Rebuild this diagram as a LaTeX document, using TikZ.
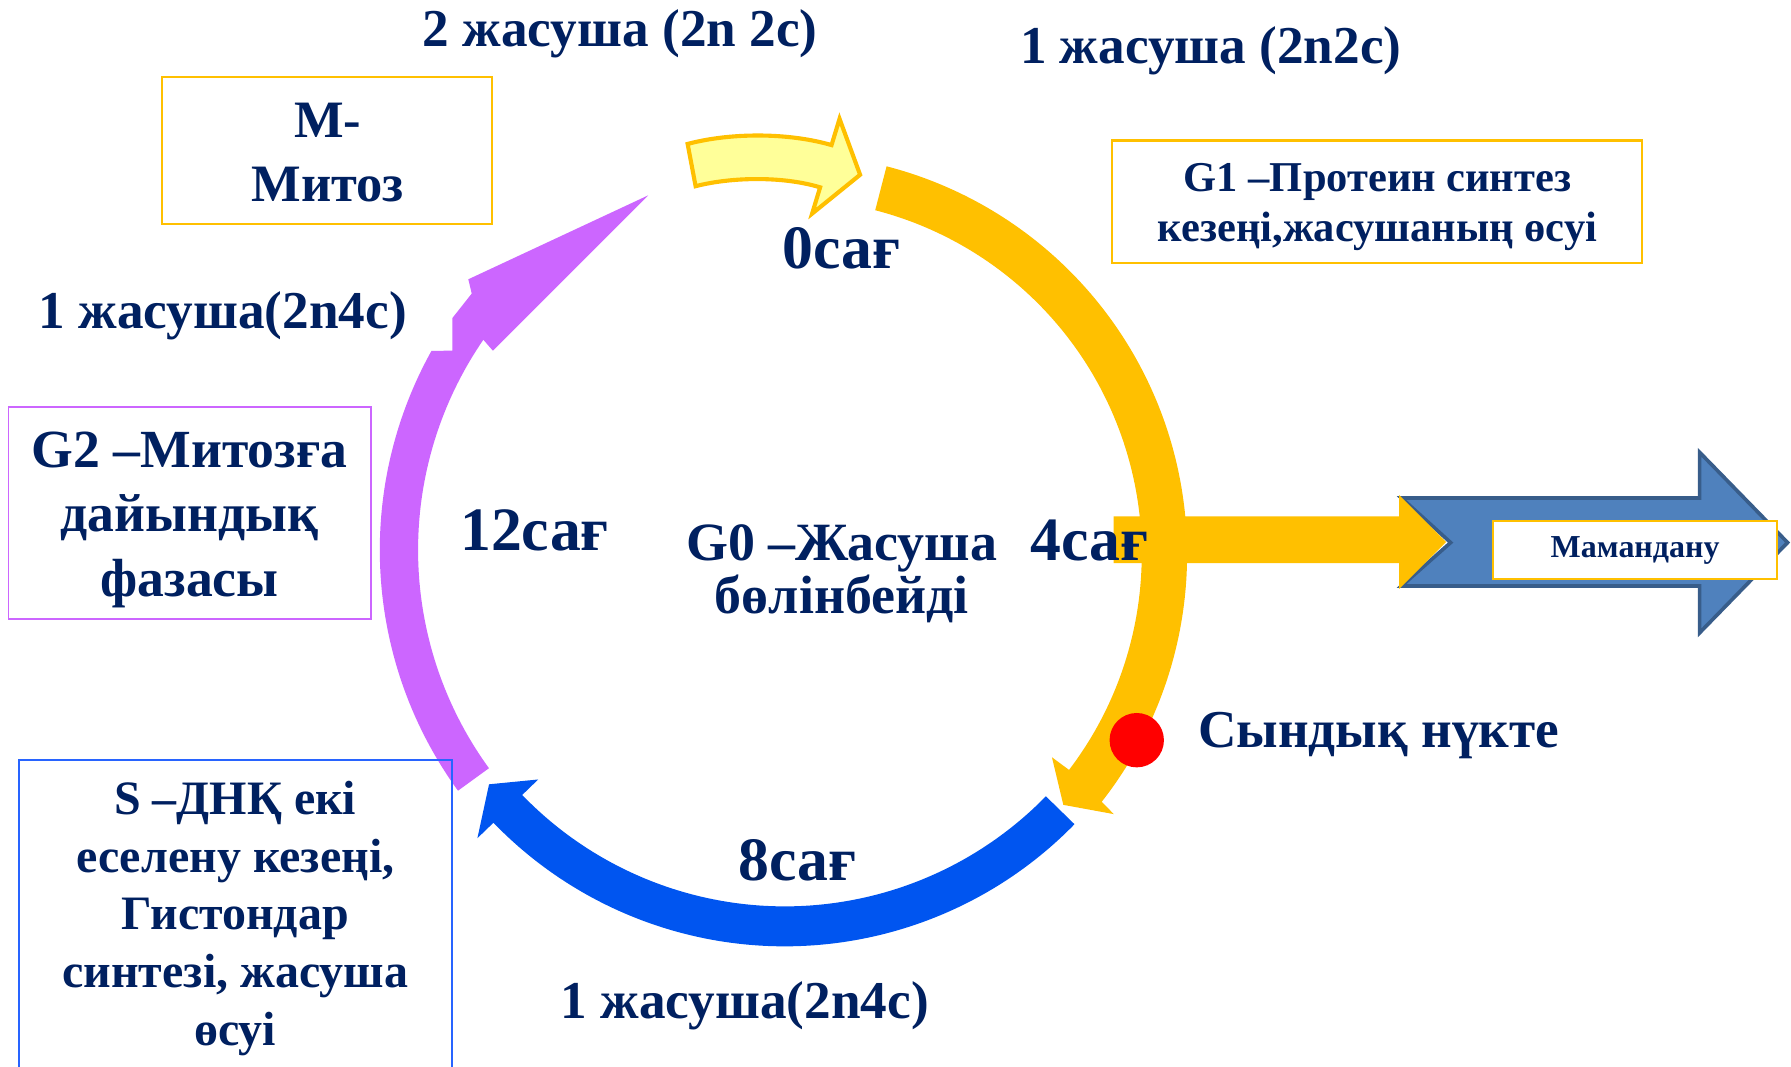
\documentclass[tikz,border=0pt]{standalone}
\usepackage{fontspec}
\setmainfont{Liberation Serif}
\usetikzlibrary{calc,fit}

\definecolor{navy}{RGB}{0,32,96}
\definecolor{gold}{RGB}{255,192,0}
\definecolor{paleyellow}{RGB}{255,255,153}
\definecolor{orchid}{RGB}{204,102,255}
\definecolor{sphase}{RGB}{0,85,240}
\definecolor{frameblue}{RGB}{40,100,255}
\definecolor{steel}{RGB}{79,129,189}
\definecolor{steeldark}{RGB}{56,93,138}
\definecolor{dotred}{RGB}{255,0,0}

\tikzset{
  txt/.style={text=navy, inner sep=0pt, align=center},
  cellcount/.style={txt, font=\bfseries\fontsize{23.3pt}{28pt}\selectfont},
  hourmark/.style={txt, font=\bfseries\fontsize{27pt}{32pt}\selectfont},
  mfont/.style={txt, font=\bfseries\fontsize{23pt}{28.35pt}\selectfont},
  gtwofont/.style={txt, font=\bfseries\fontsize{23.5pt}{28.25pt}\selectfont},
  sfont/.style={txt, font=\bfseries\fontsize{21pt}{25.2pt}\selectfont},
  gonefont/.style={txt, font=\bfseries\fontsize{18.6pt}{21.9pt}\selectfont},
  gzerofont/.style={txt, font=\bfseries\fontsize{23.6pt}{23pt}\selectfont},
  specfont/.style={txt, font=\bfseries\fontsize{14pt}{16pt}\selectfont},
  phaseframe/.style={draw=#1, line width=0.9pt, inner sep=0pt},
  ckdot/.style={circle, fill=dotred, minimum size=23.8pt, inner sep=0pt},
}

\begin{document}
\begin{tikzpicture}[x=0.5pt, y=-0.5pt]
  \useasboundingbox (0,0) rectangle (1568,934);
  \fill[white] (0,0) rectangle (1568,934);

  % centres of the three arcs of the cycle
  \coordinate (cy) at (688.3,485.4);
  \coordinate (cb) at (687,474);
  \coordinate (cp) at (691,481.5);

  % S phase arc
  \fill[sphase] ($(cb)+(44.3:354.5)$) arc[start angle=44.3, end angle=136, radius=354.5]
    -- ($(cb)+(136:374)$) -- ($(cb)+(140.6:335)$) -- ($(cb)+(136:300)$)
    -- ($(cb)+(136:319.5)$) arc[start angle=136, end angle=44.3, radius=319.5] -- cycle;

  % G2 arc with its long head
  \fill[orchid] ($(cp)+(144:358.5)$) arc[start angle=144, end angle=209.1, radius=358.5]
    -- (396,307) -- (396,278.5) -- (413,257) -- (410,244.5) -- (567.5,171)
    -- (431.5,307) -- ($(cp)+(214.5:325)$) arc[start angle=214.5, end angle=144, radius=325] -- cycle;

  % specialisation arrow
  \filldraw[fill=steel, draw=steeldark, line width=1.6pt]
    (1227,436) -- (1488,436) -- (1488,396) -- (1565,475) -- (1488,554)
    -- (1488,513) -- (1227,513) -- (1270,475) -- cycle;

  % branch leaving G1 towards specialisation
  \fill[gold] (975,452) -- (1225,452) -- (1225,433.5) -- (1266,474.5)
    -- (1225,515.5) -- (1225,493) -- (975,493) -- cycle;

  % G1 arc
  \fill[gold] ($(cy)+(-75.5:351)$) arc[start angle=-75.5, end angle=38.1, radius=351]
    -- ($(cy)+(38.4:366)$) -- ($(cy)+(42.1:327)$) -- ($(cy)+(37.35:292.7)$)
    -- ($(cy)+(37.3:311.3)$) arc[start angle=37.3, end angle=-75.5, radius=311.3] -- cycle;

  % arrow from mitosis back into G1
  \filldraw[fill=paleyellow, draw=gold, line width=1.8pt, line join=miter]
    (602,126) .. controls (640,116) and (690,116) .. (728,127)
    -- (735,104) -- (753,153) -- (711,187) -- (718,164)
    .. controls (685,154) and (640,155) .. (609,163) -- cycle;

  % restriction point
  \node[ckdot] (checkpoint) at (995.2,648) {};

  % phase frames
  \node[phaseframe=gold, fit={(142,67) (431,196)}] (mbox) {};
  \node[phaseframe=orchid, line width=0.75pt, fit={(7.5,356) (325,542)}] (gtwobox) {};
  \node[phaseframe=frameblue, fit={(17,665.5) (395.5,945)}] (sbox) {};
  \node[phaseframe=gold, fit={(973.5,123) (1437.5,230.5)}] (gonebox) {};
  \node[phaseframe=gold, fill=white, line width=0.8pt, fit={(1307,456) (1556,507)}] (specbox) {};

  % frame texts (base = baseline of the last line)
  \node[mfont, anchor=base] (mtext) at (287,176.7) {M-\\Митоз};
  \node[gtwofont, anchor=base] (gtwotext) at (166,522) {G2 –Митозға\\дайындық\\фазасы};
  \node[sfont, anchor=base] (stext) at (206,914.9) {S –ДНҚ екі\\еселену кезеңі,\\Гистондар\\синтезі, жасуша\\өсуі};
  \node[gonefont, anchor=base] (gonetext) at (1206,211.6) {G1 –Протеин синтез\\кезеңі,жасушаның өсуі};
  \node[specfont] (spectext) at (specbox.center) {Мамандану};

  % centre of the cycle
  \node[gzerofont, anchor=base] (gzero) at (737,537) {G0 –Жасуша\\бөлінбейді};

  % hour marks
  \node[hourmark, anchor=base] (h0) at (737,235) {0сағ};
  \node[hourmark, anchor=base] (h4) at (954,490.3) {4сағ};
  \node[hourmark, anchor=base] (h8) at (698,771) {8сағ};
  \node[hourmark, anchor=base] (h12) at (468,482) {12сағ};

  % cell counts
  \node[cellcount, anchor=base] (twocells) at (543,41) {2 жасуша (2n 2c)};
  \node[cellcount, anchor=base] (onecellg1) at (1060,55.5) {1 жасуша (2n2c)};
  \node[cellcount, anchor=base] (onecellg2) at (195,288) {1 жасуша(2n4c)};
  \node[cellcount, anchor=base] (onecells) at (652,892) {1 жасуша(2n4c)};

  % restriction point label
  \node[cellcount, anchor=base] (critical) at (1207,654) {Сындық нүкте};
\end{tikzpicture}
\end{document}
